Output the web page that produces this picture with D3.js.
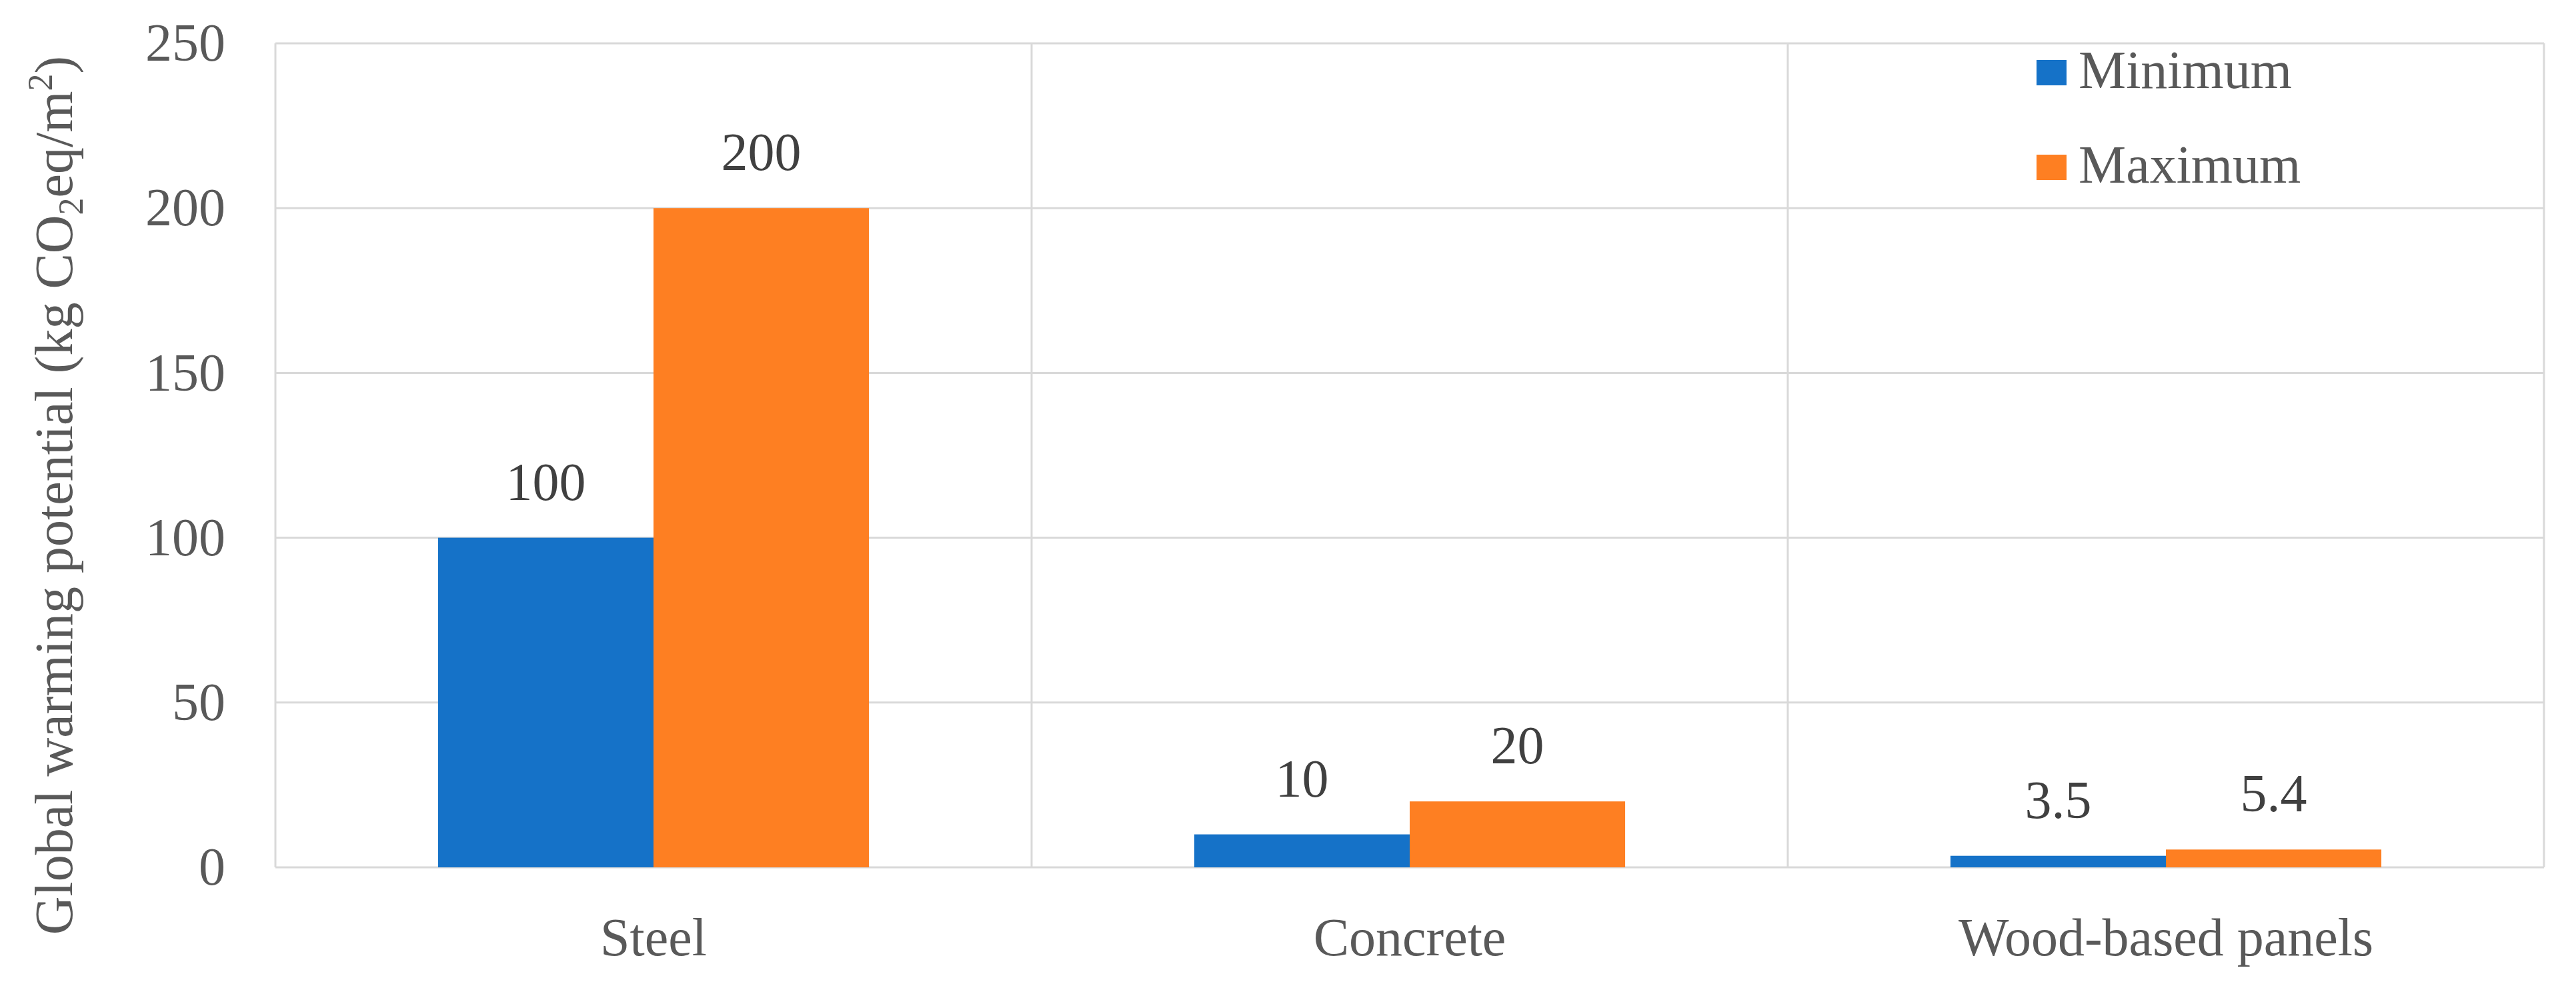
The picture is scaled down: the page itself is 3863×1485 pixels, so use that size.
<!DOCTYPE html>
<html><head><meta charset="utf-8">
<script src="https://cdn.jsdelivr.net/npm/d3@7"></script>
<style>body{margin:0;background:#fff}</style></head>
<body><svg id="c" width="3863" height="1485"></svg>
<script>
const categories = ["Steel", "Concrete", "Wood-based panels"];
const seriesNames = ["Minimum", "Maximum"];
const minimumValues = [100, 10, 3.5];
const maximumValues = [200, 20, 5.4];
const yTicks = [0, 50, 100, 150, 200, 250];
const colors = ["#1572C8", "#FE7F22"];

const svg = d3.select("#c");
const font = "'Liberation Serif', serif";
const FS = 80;
const L = 413, R = 3815, T = 65, B = 1301;
const x = d3.scaleBand().domain(categories).range([L, R]);
const xs = d3.scaleBand().domain(seriesNames).range([0, x.bandwidth()]).paddingOuter(0.755);
const y = d3.scaleLinear().domain([0, 250]).range([B, T]);

const g = svg.append("g");
g.selectAll(".hg").data(yTicks).join("line")
  .attr("x1", L).attr("x2", R).attr("y1", d => y(d)).attr("y2", d => y(d))
  .attr("stroke", "#d9d9d9").attr("stroke-width", 3);
const vlines = categories.map(c => x(c)).concat([R]);
g.selectAll(".vg").data(vlines).join("line")
  .attr("x1", d => d).attr("x2", d => d).attr("y1", T).attr("y2", B)
  .attr("stroke", "#d9d9d9").attr("stroke-width", 3);

const rows = categories.map((c, i) => [
  {c, s: "Minimum", v: minimumValues[i], col: colors[0]},
  {c, s: "Maximum", v: maximumValues[i], col: colors[1]}]).flat();
g.selectAll(".bar").data(rows).join("rect")
  .attr("x", d => x(d.c) + xs(d.s)).attr("width", xs.bandwidth())
  .attr("y", d => y(d.v)).attr("height", d => B - y(d.v)).attr("fill", d => d.col);
g.selectAll(".lbl").data(rows).join("text")
  .attr("x", d => x(d.c) + xs(d.s) + xs.bandwidth() / 2).attr("y", d => y(d.v) - 57)
  .attr("text-anchor", "middle").attr("font-family", font).attr("font-size", FS)
  .attr("fill", "#404040").text(d => d.v);

const ya = svg.append("g").attr("transform", `translate(${L},0)`)
  .call(d3.axisLeft(y).tickValues(yTicks).tickSize(0).tickPadding(75));
ya.select(".domain").remove();
ya.selectAll("text").attr("font-family", font).attr("font-size", FS).attr("fill", "#595959");

const xa = svg.append("g").attr("transform", `translate(0,${B})`)
  .call(d3.axisBottom(x).tickSize(0).tickPadding(75));
xa.select(".domain").remove();
xa.selectAll("text").attr("font-family", font).attr("font-size", FS).attr("fill", "#595959");

const t = svg.append("text").attr("transform", `translate(108,${(T + B) / 2 + 60}) rotate(-90)`)
  .attr("text-anchor", "middle").attr("font-family", font).attr("font-size", FS).attr("fill", "#595959");
t.append("tspan").text("Global warming potential (kg CO");
t.append("tspan").attr("font-size", 52).attr("dy", 16).text("2");
t.append("tspan").attr("dy", -16).text("eq/m");
t.append("tspan").attr("font-size", 52).attr("dy", -30).text("2");
t.append("tspan").attr("dy", 30).text(")");

const lg = svg.append("g");
seriesNames.forEach((s, i) => {
  const yy = 90 + i * 142;
  lg.append("rect").attr("x", 3054).attr("y", yy).attr("width", 45).attr("height", 38).attr("fill", colors[i]);
  lg.append("text").attr("x", 3117).attr("y", yy + 42).attr("font-family", font).attr("font-size", FS)
    .attr("fill", "#595959").text(s);
});
</script></body></html>
